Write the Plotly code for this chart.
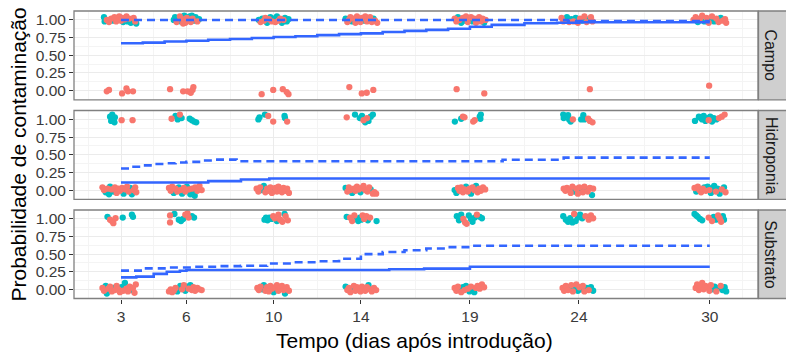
import plotly.graph_objects as go

# ---------------- data ----------------
panels = ["Campo", "Hidroponia", "Substrato"]
x_ticks = [3, 6, 10, 14, 19, 24, 30]
y_ticks = [0, 0.25, 0.5, 0.75, 1.0]
y_ticklabels = ["0.00", "0.25", "0.50", "0.75", "1.00"]
group_colors = ["#F8766D", "#00BFC4"]

# jittered observations: (day, outcome, group)  group 0 = salmon, 1 = teal
campo_points = [
    (2.22,1.04,1),(2.25,0.98,1),(2.35,1.0,0),(2.45,0.97,0),(2.55,1.02,0),(2.62,0.99,1),(2.7,1.04,0),(2.78,0.98,0),
    (2.85,1.02,1),(2.92,1.05,0),(3.0,0.99,0),(3.05,1.03,0),(3.1,0.97,1),(3.18,1.01,0),(3.25,1.05,0),(3.3,0.98,1),
    (3.38,1.02,0),(3.45,0.96,1),(3.5,1.0,1),(3.58,1.03,0),(3.65,0.98,0),(3.7,0.95,1),
    (2.35,-0.01,0),(2.45,0.01,0),(3.05,-0.04,0),(3.25,0.03,0),(3.32,-0.01,0),(3.55,-0.01,0),
    (5.42,1.0,1),(5.48,1.04,1),(5.55,0.97,0),(5.62,1.02,1),(5.7,1.05,0),(5.75,0.98,1),(5.82,1.01,0),(5.9,1.06,1),
    (5.95,0.96,0),(6.02,1.03,0),(6.08,0.99,1),(6.15,1.05,1),(6.2,0.97,0),(6.28,1.02,0),(6.35,0.99,1),(6.42,1.04,1),
    (6.5,0.98,0),(6.58,1.01,1),(5.85,0.95,0),(6.25,1.06,1),
    (5.25,0.02,0),(5.85,-0.01,0),(6.05,-0.01,0),(6.2,-0.03,0),(6.28,0.01,0),(6.32,0.05,0),
    (9.32,1.0,1),(9.4,0.97,0),(9.48,1.02,1),(9.55,0.99,0),(9.62,1.03,0),(9.7,0.96,1),(9.78,1.01,0),(9.85,1.04,1),
    (9.92,0.98,0),(10.0,1.02,1),(10.08,0.97,0),(10.15,1.05,1),(10.22,0.99,0),(10.3,1.02,0),(10.38,0.96,1),
    (10.45,1.0,0),(10.52,1.03,1),(10.6,0.98,1),(10.68,1.01,1),
    (9.45,-0.05,0),(9.98,0.01,0),(10.42,0.02,0),(10.6,-0.02,0),(10.68,-0.05,0),
    (13.3,1.02,1),(13.38,0.97,0),(13.45,1.0,0),(13.52,1.04,0),(13.6,0.98,1),(13.68,1.02,0),(13.75,0.96,0),
    (13.82,1.05,0),(13.9,1.0,1),(13.98,0.97,0),(14.05,1.03,0),(14.12,0.99,1),(14.2,1.05,0),(14.28,0.98,0),
    (14.35,1.01,1),(14.42,1.04,0),(14.5,0.97,0),(14.58,1.02,1),(14.65,0.99,0),(14.75,0.96,0),
    (13.47,0.05,0),(14.04,-0.04,0),(14.27,-0.03,0),(14.57,0.01,0),
    (18.3,1.02,0),(18.38,0.98,0),(18.45,1.04,1),(18.52,1.0,0),(18.6,0.96,1),(18.68,1.03,0),(18.75,0.99,1),
    (18.82,1.05,0),(18.9,0.97,0),(18.98,1.01,1),(19.05,1.04,0),(19.12,0.98,1),(19.2,1.02,0),(19.28,0.96,0),
    (19.35,1.0,1),(19.42,1.04,0),(19.5,0.98,0),(19.58,1.02,0),(19.65,0.96,1),(19.72,1.0,0),
    (18.39,0.02,0),(19.66,-0.04,0),
    (23.2,1.03,0),(23.28,0.98,0),(23.35,1.0,1),(23.45,1.04,1),(23.55,0.97,0),(23.65,1.01,1),(23.75,0.98,0),
    (23.85,1.03,1),(23.95,0.96,0),(24.05,1.02,0),(24.15,0.99,1),(24.25,1.05,0),(24.35,0.97,0),(24.45,1.01,1),
    (24.55,1.04,0),(24.62,0.98,0),
    (24.5,0.02,0),
    (29.25,1.0,0),(29.35,1.04,0),(29.45,0.97,1),(29.55,1.02,0),(29.65,1.06,0),(29.75,0.98,1),(29.85,1.03,0),
    (29.95,0.96,0),(30.02,1.01,1),(30.1,1.05,0),(30.2,0.98,1),(30.3,1.02,0),(30.4,0.97,0),(30.5,1.03,1),
    (30.6,0.99,0),(30.7,1.01,0),(30.75,0.96,0),
    (29.97,0.07,0),
]

hidroponia_points = [
    (2.5,1.04,1),(2.55,0.98,1),(2.6,1.07,1),(2.65,1.0,1),(2.7,0.96,1),(2.72,1.03,1),(3.03,0.99,0),(3.53,0.99,0),
    (2.15,0.04,0),(2.22,0.0,0),(2.3,-0.03,1),(2.38,0.02,0),(2.45,-0.06,1),(2.5,0.05,1),(2.58,0.01,0),(2.65,-0.02,1),
    (2.72,0.04,0),(2.8,-0.04,0),(2.88,0.02,0),(2.95,-0.01,0),(3.05,0.03,0),(3.12,-0.05,1),(3.2,0.01,0),(3.28,0.05,0),
    (3.35,-0.02,0),(3.42,0.03,1),(3.5,-0.06,1),(3.58,0.0,0),(3.65,0.04,0),(3.7,-0.03,0),
    (5.32,1.01,0),(5.5,1.05,1),(5.6,1.0,1),(5.7,1.07,0),(5.78,1.02,1),(6.15,1.01,1),(6.25,0.99,1),(6.35,0.97,1),(6.45,0.96,1),
    (5.2,0.03,0),(5.28,-0.01,0),(5.35,0.05,0),(5.42,-0.04,1),(5.5,0.02,0),(5.58,-0.02,0),(5.65,0.04,1),(5.72,0.0,0),
    (5.8,-0.05,1),(5.88,0.03,0),(5.95,-0.02,0),(6.02,0.05,1),(6.1,0.01,0),(6.18,-0.06,1),(6.25,0.02,0),(6.32,-0.03,1),
    (6.4,0.04,0),(6.5,-0.01,0),(6.6,0.06,0),(6.7,0.0,0),(6.38,-0.08,1),
    (9.3,1.0,1),(9.35,1.03,1),(9.6,1.07,1),(9.75,1.05,0),(9.98,0.97,0),(10.5,1.05,1),(10.52,1.02,1),(10.62,0.97,0),
    (9.22,0.02,0),(9.3,-0.02,0),(9.38,0.04,0),(9.45,0.0,1),(9.55,0.06,1),(9.62,-0.03,0),(9.7,0.02,0),(9.78,-0.01,0),
    (9.85,0.04,0),(9.92,-0.04,0),(10.0,0.01,1),(10.08,0.03,0),(10.15,-0.02,0),(10.22,0.05,0),(10.3,0.0,0),
    (10.38,-0.03,0),(10.45,0.03,0),(10.55,-0.01,0),(10.62,0.02,0),(10.7,-0.04,0),
    (13.35,1.03,0),(13.73,1.07,1),(13.95,1.02,1),(14.05,1.05,1),(14.12,0.99,0),(14.2,0.96,1),(14.28,1.02,0),
    (14.35,0.98,1),(14.45,1.04,1),(14.55,1.07,1),
    (13.3,0.03,1),(13.38,-0.02,0),(13.45,0.04,0),(13.52,0.0,0),(13.6,-0.04,1),(13.68,0.02,0),(13.75,-0.01,0),
    (13.82,0.05,0),(13.9,0.01,0),(13.98,-0.03,1),(14.05,0.03,0),(14.12,0.06,0),(14.2,0.0,0),(14.3,-0.02,0),
    (14.38,0.04,0),(14.45,0.01,1),(14.55,-0.05,0),(14.62,-0.03,0),(14.7,-0.05,0),
    (18.31,0.97,1),(18.6,1.01,1),(18.68,1.04,0),(18.75,1.03,0),(19.15,0.97,0),(19.22,0.99,0),(19.45,1.04,1),
    (19.5,1.07,1),(19.48,1.01,1),
    (18.3,0.0,1),(18.38,-0.04,1),(18.45,0.03,0),(18.52,-0.01,0),(18.6,0.04,0),(18.68,-0.03,0),(18.75,0.01,0),
    (18.82,0.05,1),(18.9,-0.02,0),(18.98,0.02,0),(19.05,-0.05,1),(19.12,0.04,0),(19.2,0.0,0),(19.28,0.06,1),
    (19.35,-0.03,0),(19.42,0.02,0),(19.5,-0.01,0),(19.6,0.04,0),(19.7,0.01,0),
    (23.28,1.07,1),(23.3,1.02,1),(23.5,1.06,1),(23.55,1.0,1),(23.62,0.97,1),(23.72,1.0,0),(24.1,1.0,1),
    (24.2,1.06,1),(24.25,1.0,1),(24.42,1.01,0),(24.5,0.98,0),(24.62,0.96,0),
    (23.3,0.02,0),(23.38,-0.01,0),(23.45,0.03,0),(23.55,0.0,0),(23.62,-0.04,0),(23.7,0.05,0),(23.8,-0.02,1),
    (23.88,0.02,0),(23.95,-0.05,0),(24.02,0.04,0),(24.1,0.0,1),(24.18,-0.03,0),(24.25,0.05,0),(24.32,0.01,1),
    (24.4,-0.02,0),(24.5,0.03,0),(24.6,-0.07,1),(24.65,0.02,0),
    (29.32,0.98,1),(29.5,1.04,1),(29.58,1.02,1),(29.65,1.0,1),(29.72,1.05,1),(29.8,0.98,1),(29.88,1.02,1),
    (29.95,0.99,0),(30.02,1.04,1),(30.1,0.97,1),(30.18,1.02,1),(30.3,1.0,1),(30.42,1.02,0),(30.55,1.04,0),(30.68,1.07,0),
    (29.3,0.03,0),(29.38,-0.02,1),(29.45,0.05,0),(29.52,0.0,0),(29.6,-0.03,0),(29.68,0.02,0),(29.75,0.04,1),
    (29.82,-0.01,0),(29.9,0.05,1),(29.98,0.0,0),(30.05,-0.04,1),(30.12,0.03,1),(30.2,0.06,1),(30.28,-0.02,0),
    (30.35,0.02,1),(30.45,-0.05,1),(30.55,0.01,0),(30.65,0.04,1),(30.72,-0.03,0),
]

substrato_points = [
    (2.38,1.03,1),(2.5,0.99,0),(2.58,0.97,0),(2.65,0.94,0),(2.75,1.01,0),(3.08,1.02,1),(3.5,1.06,1),(3.55,1.03,1),
    (2.15,0.02,0),(2.22,-0.02,0),(2.3,0.05,1),(2.35,-0.06,1),(2.42,0.01,0),(2.5,0.04,0),(2.58,-0.03,0),(2.65,0.02,1),
    (2.72,-0.01,0),(2.8,0.05,0),(2.88,0.0,0),(2.95,-0.04,0),(3.02,0.03,1),(3.1,-0.02,0),(3.18,0.09,1),(3.25,0.01,0),
    (3.32,-0.03,0),(3.4,0.04,0),(3.48,-0.01,1),(3.55,0.02,0),(3.62,-0.05,0),(3.68,0.07,0),
    (5.25,1.05,0),(5.25,0.95,0),(5.45,1.07,1),(5.65,0.99,1),(5.75,0.97,1),(5.85,1.0,1),(5.95,1.06,0),(6.05,1.08,0),
    (6.1,1.02,0),(6.25,1.04,1),(6.35,1.02,1),
    (5.2,-0.03,0),(5.28,0.0,0),(5.35,-0.04,0),(5.42,-0.02,0),(5.5,0.02,0),(5.58,-0.03,1),(5.65,0.01,1),(5.72,0.05,1),
    (5.8,0.0,0),(5.88,0.06,0),(5.95,-0.02,1),(6.02,0.04,1),(6.1,0.01,0),(6.18,0.06,1),(6.25,-0.01,0),(6.32,0.03,0),
    (6.4,-0.02,0),(6.5,0.02,0),(6.6,0.0,0),(6.7,-0.01,0),
    (9.58,0.99,1),(9.65,1.02,1),(9.72,0.98,1),(9.8,1.02,1),(9.9,1.0,1),(9.98,1.04,0),(10.05,1.01,0),(10.15,0.97,1),
    (10.22,1.06,0),(10.3,0.99,0),(10.4,0.96,0),(10.5,1.07,1),(10.55,1.04,0),(10.65,0.98,0),
    (9.25,0.02,0),(9.32,-0.01,0),(9.4,0.04,0),(9.48,0.0,1),(9.55,0.06,1),(9.62,-0.02,0),(9.7,0.03,0),(9.78,-0.03,0),
    (9.85,0.05,0),(9.92,0.01,0),(10.0,-0.04,1),(10.08,0.03,0),(10.15,0.06,0),(10.22,-0.02,0),(10.3,0.02,0),
    (10.38,0.05,0),(10.45,-0.01,0),(10.52,-0.06,1),(10.6,0.03,0),(10.7,-0.02,0),
    (13.35,1.03,1),(13.5,1.02,0),(13.6,0.97,0),(13.7,1.05,0),(13.8,1.0,1),(13.88,0.97,1),(13.95,1.02,1),
    (14.02,0.99,1),(14.08,1.05,0),(14.15,1.0,0),(14.25,1.04,0),(14.32,0.98,1),(14.42,1.02,0),(14.72,0.97,1),
    (13.3,0.04,1),(13.38,-0.01,0),(13.45,0.02,0),(13.52,-0.04,0),(13.6,0.01,1),(13.68,0.05,0),(13.75,-0.02,0),
    (13.82,0.03,0),(13.9,0.0,1),(13.98,-0.03,0),(14.05,0.04,0),(14.12,0.01,1),(14.2,-0.02,0),(14.28,0.03,0),
    (14.35,0.06,1),(14.42,0.0,0),(14.5,-0.03,0),(14.6,0.02,0),(14.7,-0.01,0),
    (18.4,1.04,1),(18.5,0.98,1),(18.6,1.06,1),(18.7,1.0,0),(18.78,0.95,0),(18.85,0.93,0),(18.95,1.05,1),
    (19.05,1.0,1),(19.12,0.96,1),(19.22,1.02,1),(19.32,1.06,0),(19.45,1.03,1),(19.55,1.01,1),
    (18.3,0.02,0),(18.38,-0.02,0),(18.45,0.04,0),(18.52,0.0,1),(18.6,-0.04,0),(18.68,0.03,1),(18.75,-0.01,0),
    (18.82,0.05,1),(18.9,0.01,0),(18.98,-0.03,1),(19.05,0.04,0),(19.12,0.0,1),(19.2,-0.04,1),(19.28,0.02,0),
    (19.35,0.05,0),(19.45,0.01,0),(19.55,0.07,0),(19.65,0.03,0),
    (23.28,1.04,1),(23.4,0.99,1),(23.5,0.96,1),(23.6,1.01,1),(23.7,0.95,1),(23.78,1.07,0),(23.85,0.97,1),
    (23.95,1.02,1),(24.05,1.06,1),(24.15,1.01,1),(24.3,1.04,0),(24.45,0.99,0),(24.55,1.05,0),(24.65,1.01,0),
    (23.25,0.02,0),(23.32,-0.02,0),(23.4,0.05,0),(23.5,-0.01,0),(23.58,0.03,1),(23.65,0.06,0),(23.72,-0.03,0),
    (23.8,0.01,1),(23.88,0.07,0),(23.95,-0.02,1),(24.02,0.03,0),(24.1,0.0,1),(24.18,0.05,0),(24.25,-0.03,0),
    (24.35,0.02,1),(24.45,-0.01,0),(24.55,0.03,1),(24.65,-0.02,1),
    (29.3,1.07,1),(29.38,1.05,1),(29.45,1.03,1),(29.55,1.0,1),(29.65,0.98,1),(29.95,1.02,0),(30.1,0.97,0),
    (30.18,1.03,1),(30.28,0.99,1),(30.38,1.05,0),(30.45,1.01,0),(30.52,0.96,0),(30.6,1.04,1),(30.65,0.99,1),
    (29.35,0.02,0),(29.42,0.07,0),(29.5,-0.01,0),(29.58,0.04,0),(29.65,0.09,0),(29.72,0.0,0),(29.8,0.05,0),
    (29.9,0.03,0),(29.98,-0.02,0),(30.05,0.06,0),(30.15,0.0,1),(30.22,0.04,1),(30.3,-0.03,0),(30.4,0.02,1),
    (30.5,0.05,0),(30.58,-0.01,1),(30.68,0.03,1),(30.75,-0.03,1),
]

# fitted probability (solid) and upper curve (dashed), stepwise over time
campo_fit_days = [3, 4, 5, 6, 7, 8, 9, 10, 11, 12, 13, 14, 15, 16, 17, 18, 19, 20, 21.5, 23, 24, 30]
campo_fit = [0.67, 0.68, 0.695, 0.705, 0.72, 0.73, 0.745, 0.76, 0.77, 0.785, 0.80, 0.81, 0.83, 0.845,
             0.86, 0.875, 0.905, 0.93, 0.953, 0.96, 0.967, 0.967]
campo_upper_days = [3, 23.5, 30]
campo_upper = [1.0, 0.985, 0.985]

hidro_fit_days = [3, 7, 8.5, 9.8, 30]
hidro_fit = [0.108, 0.127, 0.15, 0.165, 0.165]
hidro_upper_days = [3, 3.5, 4, 4.5, 5, 5.5, 6, 6.8, 7.2, 8.3, 20.5, 23.3, 30]
hidro_upper = [0.305, 0.33, 0.35, 0.37, 0.38, 0.39, 0.40, 0.42, 0.432, 0.408, 0.43, 0.46, 0.46]

subst_fit_days = [3, 3.7, 4.5, 5.1, 5.7, 6, 15.3, 16.9, 19, 30]
subst_fit = [0.17, 0.18, 0.22, 0.25, 0.265, 0.275, 0.285, 0.295, 0.32, 0.32]
subst_upper_days = [3, 4, 5.1, 6.3, 7.4, 8.5, 9.7, 10.9, 12.1, 13, 14, 15, 16, 17, 18, 19, 30]
subst_upper = [0.266, 0.298, 0.31, 0.32, 0.33, 0.335, 0.367, 0.385, 0.40, 0.435, 0.50, 0.53, 0.555, 0.58, 0.60, 0.62, 0.62]

points_by_panel = [campo_points, hidroponia_points, substrato_points]
fit_by_panel = [(campo_fit_days, campo_fit), (hidro_fit_days, hidro_fit), (subst_fit_days, subst_fit)]
upper_by_panel = [(campo_upper_days, campo_upper), (hidro_upper_days, hidro_upper), (subst_upper_days, subst_upper)]

# ---------------- layout geometry ----------------
W, H = 786, 353
px_left, px_right = 74, 758
panel_px = [(11, 99.8), (110.5, 199.3), (210, 298.5)]
x_range = [0.845, 32.21]
y_range = [-0.13, 1.127]
FONT = "Liberation Sans, Arial, sans-serif"
LINE_BLUE = "#3366FF"

fig = go.Figure()

for i in range(3):
    ax = "" if i == 0 else str(i + 1)
    pts = points_by_panel[i]
    for g in [1, 0]:
        xs = [p[0] for p in pts if p[2] == g]
        ys = [p[1] for p in pts if p[2] == g]
        fig.add_trace(go.Scatter(
            x=xs, y=ys, mode="markers", xaxis="x" + ax, yaxis="y" + ax,
            marker=dict(color=group_colors[g], size=6.3, line=dict(width=0)),
            showlegend=False, hoverinfo="skip"))
    fd, fv = fit_by_panel[i]
    fig.add_trace(go.Scatter(x=fd, y=fv, mode="lines", xaxis="x" + ax, yaxis="y" + ax,
                             line=dict(color=LINE_BLUE, width=2.6, shape="hv"),
                             showlegend=False, hoverinfo="skip"))
    ud, uv = upper_by_panel[i]
    fig.add_trace(go.Scatter(x=ud, y=uv, mode="lines", xaxis="x" + ax, yaxis="y" + ax,
                             line=dict(color=LINE_BLUE, width=2.6, shape="hv", dash="8px,5px"),
                             showlegend=False, hoverinfo="skip"))

layout = dict(
    width=W, height=H,
    margin=dict(l=0, r=0, t=0, b=0),
    paper_bgcolor="white", plot_bgcolor="white",
    showlegend=False,
    font=dict(family=FONT, color="#000000"),
)

xdom = [px_left / W, px_right / W]
shapes = []
annotations = []
for i in range(3):
    top, bot = panel_px[i]
    ydom = [1 - bot / H, 1 - top / H]
    ax = "" if i == 0 else str(i + 1)
    is_bottom = (i == 2)
    layout["xaxis" + ax] = dict(
        domain=xdom, range=x_range, anchor="y" + ax,
        tickmode="array", tickvals=x_ticks, ticktext=[str(v) for v in x_ticks],
        showticklabels=is_bottom, ticks="outside" if is_bottom else "",
        ticklen=4, tickwidth=1, tickcolor="#333333",
        tickfont=dict(family=FONT, size=15.5, color="#3A3A3A"),
        showgrid=True, gridcolor="#EBEBEB", gridwidth=1.1, zeroline=False, showline=False,
        minor=dict(tickmode="array", tickvals=[1.5, 4.5, 8, 12, 16.5, 21.5, 27, 31.5],
                   showgrid=True, gridcolor="#F4F4F4", gridwidth=0.7, ticks=""),
        fixedrange=True,
    )
    if i > 0:
        layout["xaxis" + ax]["matches"] = "x"
    layout["yaxis" + ax] = dict(
        domain=ydom, range=y_range, anchor="x" + ax,
        tickmode="array", tickvals=y_ticks, ticktext=y_ticklabels,
        ticks="outside", ticklen=4, tickwidth=1, tickcolor="#333333",
        tickfont=dict(family=FONT, size=15.5, color="#3A3A3A"),
        showgrid=True, gridcolor="#EBEBEB", gridwidth=1.1, zeroline=False, showline=False,
        minor=dict(tickmode="array", tickvals=[0.125, 0.375, 0.625, 0.875],
                   showgrid=True, gridcolor="#F4F4F4", gridwidth=0.7, ticks=""),
        fixedrange=True,
    )
    # panel border
    shapes.append(dict(type="rect", xref="paper", yref="paper",
                       x0=xdom[0], x1=xdom[1], y0=ydom[0], y1=ydom[1],
                       line=dict(color="#808080", width=1.3), fillcolor="rgba(0,0,0,0)", layer="above"))
    # strip
    shapes.append(dict(type="rect", xref="paper", yref="paper",
                       x0=(px_right + 0.5) / W, x1=(W + 3) / W, y0=ydom[0], y1=ydom[1],
                       line=dict(color="#808080", width=1.3), fillcolor="#CFCFCF", layer="above"))
    annotations.append(dict(text=panels[i], xref="paper", yref="paper",
                            x=771 / W, y=(ydom[0] + ydom[1]) / 2, showarrow=False, textangle=90,
                            font=dict(family=FONT, size=16, color="#1A1A1A"),
                            xanchor="center", yanchor="middle"))

annotations.append(dict(text="Probabilidade de contaminação", xref="paper", yref="paper",
                        x=18 / W, y=1 - 154.5 / H, showarrow=False, textangle=-90,
                        font=dict(family=FONT, size=21, color="#000000"),
                        xanchor="center", yanchor="middle"))
annotations.append(dict(text="Tempo (dias após introdução)", xref="paper", yref="paper",
                        x=414 / W, y=1 - 340 / H, showarrow=False,
                        font=dict(family=FONT, size=21, color="#000000"),
                        xanchor="center", yanchor="middle"))

layout["shapes"] = shapes
layout["annotations"] = annotations
fig.update_layout(**layout)

fig.write_html("out.html", config={"displayModeBar": False},
               post_script="document.body.style.margin='0';document.body.style.padding='0';")
